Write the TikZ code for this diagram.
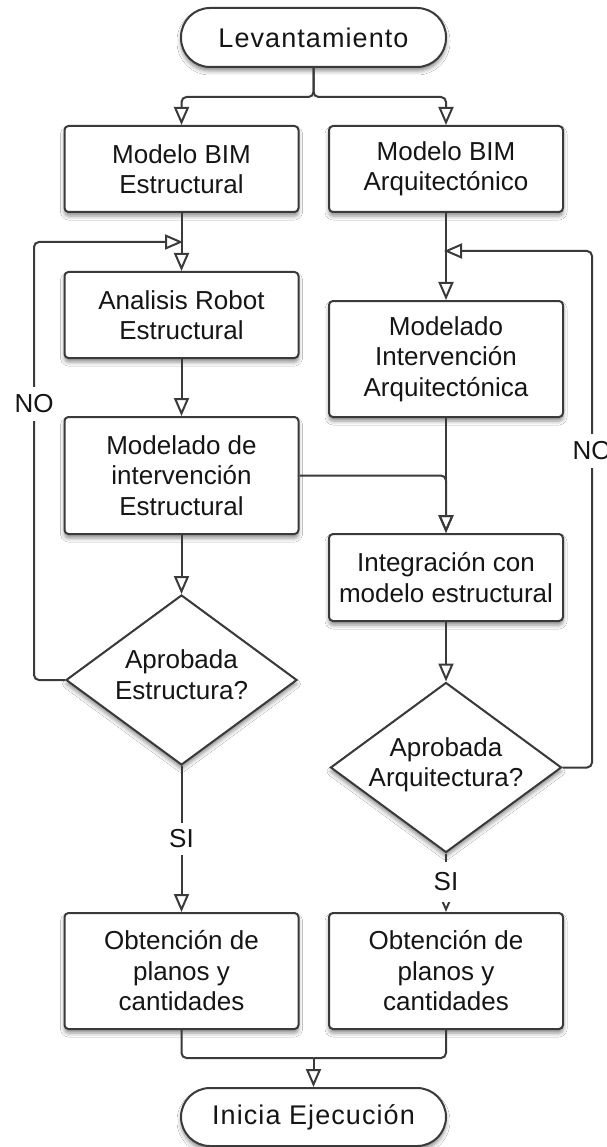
\documentclass[tikz,border=0pt]{standalone}
\usepackage{fontspec}
\setmainfont{Liberation Sans}
\usetikzlibrary{arrows.meta,shapes.geometric,shadows.blur}
\definecolor{linec}{HTML}{3A3A3A}
\definecolor{txtc}{HTML}{151515}
\newcommand\mydtext[1]{\makebox[0pt]{\smash{\raisebox{-4pt}{\begin{tabular}{@{}c@{}}#1\end{tabular}}}}}
\begin{document}
\begin{tikzpicture}[x=1pt,y=-1pt,
  font=\fontsize{26}{30.5}\selectfont,
  shad/.style={blur shadow={shadow xshift=0pt,shadow yshift=-4pt,shadow blur radius=4pt,shadow opacity=45}},
  box/.style={draw=linec,line width=2pt,rounded corners=4pt,fill=white,align=center,
    inner sep=0pt,text=txtc,minimum width=234pt,shad},
  term/.style={draw=linec,line width=2pt,rounded corners=29pt,fill=white,inner sep=0pt,
    text=txtc,minimum width=265pt,minimum height=59pt,shad,
    font=\fontsize{27}{32}\selectfont\addfontfeature{LetterSpace=4}},
  dec/.style={diamond,draw=linec,line width=2pt,fill=white,inner sep=0pt,text=txtc,
    minimum width=231pt,minimum height=170pt,shad},
  conn/.style={draw=linec,line width=2pt,rounded corners=5pt},
  arr/.style={conn,-{Triangle[open,length=18pt,width=15pt]}},
  lbl/.style={fill=white,text=txtc,inner xsep=3pt}
]
\fill[white] (0,0) rectangle (606,1147);
\useasboundingbox (0,0) rectangle (606,1147);

\node[term] (lev) at (313.5,37.5) {Levantamiento};
\node[box,minimum height=86pt] (b1) at (181.5,169) {Modelo BIM\\Estructural};
\node[box,minimum height=86pt] (b2) at (446,169) {Modelo BIM\\Arquitectónico};
\node[box,minimum height=86pt] (ana) at (181.5,315) {Analisis Robot\\Estructural};
\node[box,minimum height=116pt] (marq) at (446,359) {Modelado\\Intervención\\Arquitectónica};
\node[box,minimum height=117pt] (mde) at (181.5,475.5) {Modelado de\\intervención\\Estructural};
\node[box,minimum height=87pt] (integ) at (446,577.5) {Integración con\\modelo estructural};
\node[dec] (d1) at (181.5,680) {\mydtext{Aprobada\\Estructura?}};
\node[dec] (d2) at (446,767.5) {\mydtext{Aprobada\\Arquitectura?}};
\node[box,minimum height=116pt] (o1) at (181.5,971) {Obtención de\\planos y\\cantidades};
\node[box,minimum height=116pt] (o2) at (446,971) {Obtención de\\planos y\\cantidades};
\node[term,minimum height=58pt] (ini) at (313.5,1117) {Inicia Ejecución};

\coordinate (split) at (313.5,97);
\coordinate (mrg) at (313.5,1058);
\coordinate (lcorner) at (34,242);
\coordinate (la) at (183,242);
\coordinate (rcorner) at (592,251);
\coordinate (ra) at (444,251);

\draw[arr] (lev.south) -- (split) -| (b1.north);
\draw[arr] (lev.south) -- (split) -| (b2.north);
\draw[arr] (b1.south) -- (ana.north);
\draw[arr] (ana.south) -- (mde.north);
\draw[arr] (mde.south) -- (d1.north);
\draw[arr] (d1.west) -| (lcorner) -- (la);
\draw[arr] (b2.south) -- (marq.north);
\draw[arr] (marq.south) -- (integ.north);
\draw[arr] (mde.east) -| (integ.north);
\draw[arr] (integ.south) -- (d2.north);
\draw[arr] (d2.east) -| (rcorner) -- (ra);
\draw[arr] (d1.south) -- (o1.north);
\draw[arr] (d2.south) -- (o2.north);
\draw[conn] (o1.south) |- (mrg);
\draw[conn] (o2.south) |- (mrg);
\draw[arr] (mrg) -- (ini.north);

\node[lbl,inner ysep=8pt] (no1) at (34,404) {NO};
\node[lbl,inner ysep=8pt] (no2) at (592,451) {NO};
\node[lbl,inner ysep=7pt] (si1) at (181.5,839) {SI};
\node[lbl,inner ysep=11pt] (si2) at (446,882) {SI};
\end{tikzpicture}
\end{document}
